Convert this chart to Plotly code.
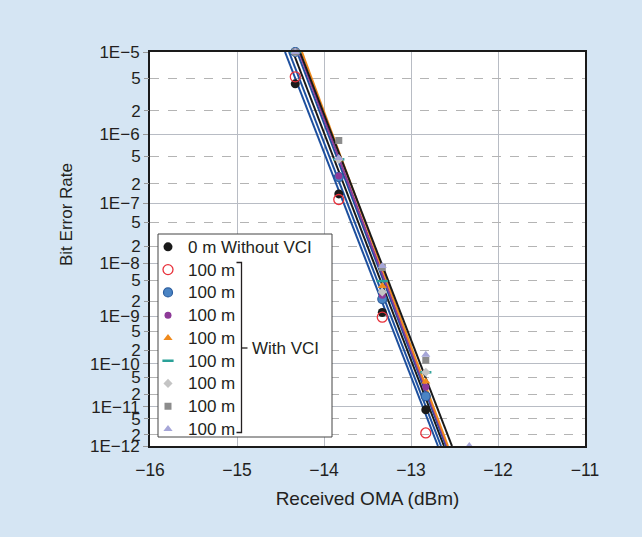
import numpy as np
import plotly.graph_objects as go

# ---------------- data ----------------
X_COLS = [-14.33, -13.83, -13.33, -12.83, -12.33]

SERIES_NAMES = ["0 m Without VCI", "100 m", "100 m", "100 m", "100 m",
                "100 m", "100 m", "100 m", "100 m"]
# BER readings at X_COLS (None = no point)
BER_0M      = [4.3e-6, 1.4e-7, 1.2e-9, 8.5e-12, None]
BER_RED     = [5.2e-6, 1.15e-7, 9.7e-10, 2.2e-12, None]
BER_BLUE    = [1e-5, 2.5e-7, 2.2e-9, 1.8e-11, None]
BER_PURPLE  = [1e-5, 2.6e-7, 2.6e-9, 3.0e-11, None]
BER_ORANGE  = [1e-5, 4.5e-7, 3.9e-9, 4.0e-11, None]
BER_TEAL    = [1e-5, 4.5e-7, 4.8e-9, 6.5e-11, None]
BER_DIAMOND = [1e-5, 4.5e-7, 3.0e-9, 6.5e-11, None]
BER_SQUARE  = [1e-5, 8.2e-7, 8.5e-9, 1.2e-10, None]
BER_TRI     = [1e-5, 4.7e-7, 9.0e-9, 1.6e-10, 1e-12]

# fitted lines: received OMA at BER 1e-5 and at 1e-12
LINE_BER_ENDS = [1e-5, 1e-12]
LINE_X_TOP    = [-14.448, -14.402, -14.356, -14.310, -14.287, -14.253, -14.276]
LINE_X_BOTTOM = [-12.690, -12.655, -12.621, -12.598, -12.586, -12.575, -12.529]
LINE_COLORS   = ["#1d4f9e", "#1d4f9e", "#1a1a1a", "#1d4f9e", "#8e3a98", "#f08a1c", "#1a1a1a"]

DECADES = [1e-5, 1e-6, 1e-7, 1e-8, 1e-9, 1e-10, 1e-11, 1e-12]
DECADE_LABELS = ["1E\u22125", "1E\u22126", "1E\u22127", "1E\u22128",
                 "1E\u22129", "1E\u221210", "1E\u221211", "1E\u221212"]
MINOR_MANT = [5, 2]
X_TICKS = [-16, -15, -14, -13, -12, -11]


def T(ber):
    return np.log10(-np.log10(np.asarray(ber, dtype=float)))


FONT = "Liberation Sans, Arial, Helvetica, sans-serif"
TXT = "#231f20"

fig = go.Figure()

for xt, xb, c in zip(LINE_X_TOP, LINE_X_BOTTOM, LINE_COLORS):
    fig.add_trace(go.Scatter(x=[xt, xb], y=T(LINE_BER_ENDS), mode="lines",
                             line=dict(color=c, width=2), showlegend=False,
                             hoverinfo="skip"))

styles = [
    (BER_0M, dict(symbol="circle", size=9, color="#1a1a1a")),
    (BER_RED, dict(symbol="circle-open", size=10, color="#e8303a", line=dict(width=1.3, color="#e8303a"))),
    (BER_BLUE, dict(symbol="circle", size=9, color="#4a84c4", line=dict(width=1.2, color="#2a5c9e"))),
    (BER_PURPLE, dict(symbol="circle", size=7, color="#8e3a98")),
    (BER_ORANGE, dict(symbol="triangle-up", size=8, color="#f08a1c")),
    (BER_TEAL, dict(symbol="line-ew", size=8, color="#2aa198", line=dict(width=2.5, color="#2aa198"))),
    (BER_DIAMOND, dict(symbol="diamond", size=7, color="#c4c4c4")),
    (BER_SQUARE, dict(symbol="square", size=7, color="#8c8c8c")),
    (BER_TRI, dict(symbol="triangle-up", size=8, color="#a6a6d8")),
]

draw_order = [2, 3, 4, 5, 6, 7, 8, 0, 1]
traces = {}
for i, (vals, mk) in enumerate(styles):
    xs = [x for x, v in zip(X_COLS, vals) if v is not None]
    ys = T([v for v in vals if v is not None])
    traces[i] = go.Scatter(x=xs, y=ys, mode="markers", marker=mk,
                           name=f'<span style="font-size:17px">{SERIES_NAMES[i]}</span>',
                           cliponaxis=False, legendrank=i + 1)
for i in draw_order:
    fig.add_trace(traces[i])

minor_vals, minor_text = [], []
for d in DECADES[1:]:
    for m in MINOR_MANT:
        minor_vals.append(m * d)
        minor_text.append(str(m))

yrange = [float(T(1e-12)), float(T(1e-5))]

fig.update_layout(
    width=642, height=537,
    paper_bgcolor="#d5e5f3", plot_bgcolor="white",
    margin=dict(l=150, r=57, t=52, b=91),
    font=dict(family=FONT, color=TXT, size=15),
    xaxis=dict(range=[-16, -11], tickvals=X_TICKS, showgrid=True,
               gridcolor="#b8bcc4", gridwidth=1.3, zeroline=False,
               showline=True, linecolor="#1a1a1a", linewidth=2, mirror=True,
               ticks="", tickfont=dict(size=17.5), ticklabelstandoff=7,
               title=dict(text="Received OMA (dBm)", font=dict(size=19), standoff=13)),
    yaxis=dict(range=yrange, tickvals=list(T(DECADES)), ticktext=DECADE_LABELS,
               showgrid=True, gridcolor="#b8bcc4", gridwidth=1.3, zeroline=False,
               showline=True, linecolor="#1a1a1a", linewidth=2, mirror=True,
               ticks="outside", ticklen=5, tickcolor="#999999",
               tickfont=dict(size=17)),
    yaxis2=dict(range=yrange, overlaying="y", side="left", anchor="x",
                tickvals=list(T(minor_vals)), ticktext=minor_text,
                showgrid=True, gridcolor="#b4b4b4", gridwidth=1.2, griddash="dash",
                zeroline=False, showline=False,
                ticks="outside", ticklen=5, tickcolor="#999999",
                tickfont=dict(size=17)),
    showlegend=True,
    legend=dict(x=-0.0046, y=0.547, xanchor="left", yanchor="top",
                bgcolor="rgba(0,0,0,0)", borderwidth=0, itemwidth=30,
                font=dict(size=15.2, color=TXT), tracegroupgap=0),
)

# invisible trace to activate yaxis2
fig.add_trace(go.Scatter(x=[-16], y=[yrange[0]], yaxis="y2", mode="markers",
                         marker=dict(opacity=0), showlegend=False, hoverinfo="skip"))


def px(xp):
    return (xp - 150) / 435.0


def py(yp):
    return (446 - yp) / 394.0


BX = 241.5
shapes = [
    dict(type="rect", xref="paper", yref="paper", x0=px(158), x1=px(332),
         y0=py(437), y1=py(234), fillcolor="white",
         line=dict(color="#444444", width=1), layer="above"),
    dict(type="path", xref="paper", yref="paper",
         path=f"M {px(BX-5)} {py(262.5)} L {px(BX)} {py(262.5)} L {px(BX)} {py(432.5)} L {px(BX-5)} {py(432.5)}",
         line=dict(color="#231f20", width=1.3), layer="above"),
    dict(type="line", xref="paper", yref="paper", x0=px(BX), x1=px(BX + 6),
         y0=py(348), y1=py(348), line=dict(color="#231f20", width=1.3), layer="above"),
]
fig.update_layout(shapes=shapes)

fig.add_annotation(x=px(BX + 8), y=py(348), xref="paper", yref="paper",
                   text="With VCI", showarrow=False, xanchor="left", yanchor="middle",
                   font=dict(size=17, color=TXT))
fig.add_annotation(x=px(67), y=py(215), xref="paper", yref="paper",
                   text="Bit Error Rate", showarrow=False, textangle=-90,
                   xanchor="center", yanchor="middle",
                   font=dict(size=17, color=TXT))

fig.write_html("out.html")
